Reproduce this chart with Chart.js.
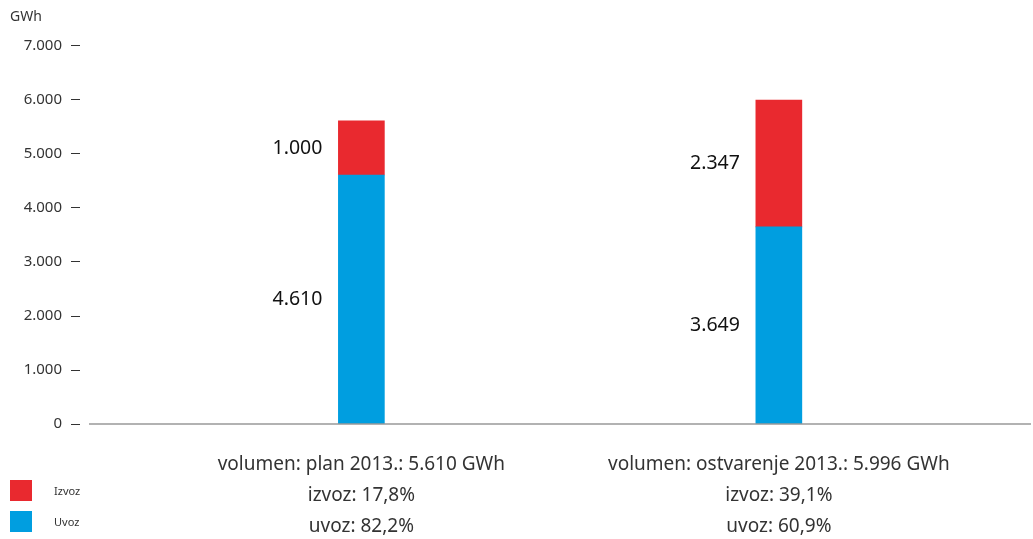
<!DOCTYPE html>
<html>
<head>
<meta charset="utf-8">
<script src="https://cdn.jsdelivr.net/npm/chart.js@4/dist/chart.umd.min.js"></script>
<style>
  body { margin: 0; background: #fff; }
  #wrap { position: relative; width: 1033px; height: 539px; }
  #legend { position: absolute; left: 10px; top: 480px; font: 11px "Noto Sans", sans-serif; color: #333; }
  #legend div { display: flex; align-items: center; height: 21px; margin-bottom: 10px; }
  #legend span.box { width: 22px; height: 21px; margin-right: 22px; }
</style>
</head>
<body>
<div id="wrap">
  <canvas id="chart"></canvas>
  <div id="legend"></div>
</div>
<script>
// category labels, one array of lines per bar
const categories = [
  ["volumen: plan 2013.: 5.610 GWh", "izvoz: 17,8%", "uvoz: 82,2%"],
  ["volumen: ostvarenje 2013.: 5.996 GWh", "izvoz: 39,1%", "uvoz: 60,9%"],
];
const uvoz = [4610, 3649];
const izvoz = [1000, 2347];
const yTicks = [0, 1000, 2000, 3000, 4000, 5000, 6000, 7000];

const RED = "rgb(233, 41, 47)";
const BLUE = "rgb(0, 158, 224)";

function fmt(n) {
  return String(n).replace(/\B(?=(\d{3})+(?!\d))/g, ".");
}

// values drawn to the left of each segment
const segmentLabels = {
  id: "segmentLabels",
  afterDatasetsDraw(chart) {
    const ctx = chart.ctx;
    ctx.save();
    ctx.font = '19.5px "Noto Sans", sans-serif';
    ctx.fillStyle = "#111";
    ctx.textAlign = "right";
    ctx.textBaseline = "middle";
    chart.data.datasets.forEach((ds, i) => {
      chart.getDatasetMeta(i).data.forEach((bar, j) => {
        const { x, y, base, width } = bar.getProps(["x", "y", "base", "width"], true);
        ctx.fillText(fmt(ds.data[j].y), x - width / 2 - 16, (y + base) / 2);
      });
    });
    ctx.restore();
  },
};

// baseline starts a little right of the y tick marks
const baseline = {
  id: "baseline",
  afterDatasetsDraw(chart) {
    const { ctx, chartArea } = chart;
    ctx.save();
    ctx.strokeStyle = "#999";
    ctx.lineWidth = 1.5;
    ctx.beginPath();
    ctx.moveTo(chartArea.left + 9, chartArea.bottom);
    ctx.lineTo(chartArea.right, chartArea.bottom);
    ctx.stroke();
    ctx.restore();
  },
};

const chart = new Chart(document.getElementById("chart"), {
  type: "bar",
  data: {
    datasets: [
      {
        label: "Uvoz",
        data: uvoz.map((v, i) => ({ x: i, y: v })),
        backgroundColor: BLUE,
        barThickness: 46,
      },
      {
        label: "Izvoz",
        data: izvoz.map((v, i) => ({ x: i, y: v })),
        backgroundColor: RED,
        barThickness: 46,
      },
    ],
  },
  options: {
    responsive: true,
    maintainAspectRatio: false,
    animation: false,
    layout: { padding: { left: 10, right: 2, top: 0, bottom: -20 } },
    plugins: {
      legend: { display: false },
      title: {
        display: true,
        text: "GWh",
        align: "start",
        color: "#333",
        font: { family: "Noto Sans", size: 14, weight: "normal" },
        padding: { top: 9, bottom: 20 },
      },
    },
    scales: {
      x: {
        type: "linear",
        stacked: true,
        offset: false,
        min: -0.674,
        max: 1.604,
        grid: { display: false },
        border: { display: false },
        afterBuildTicks: (scale) => {
          scale.ticks = categories.map((c, i) => ({ value: i }));
        },
        ticks: {
          autoSkip: false,
          maxRotation: 0,
          padding: 17,
          color: "#333",
          font: { family: "Noto Sans", size: 19, lineHeight: 1.63 },
          callback: (v) => categories[v],
        },
      },
      y: {
        stacked: true,
        min: 0,
        max: 7000,
        afterBuildTicks: (scale) => {
          scale.ticks = yTicks.map((v) => ({ value: v }));
        },
        afterFit: (scale) => {
          scale.width = 70;
        },
        grid: { drawOnChartArea: false, tickLength: 9, color: "#333" },
        border: { display: false },
        ticks: {
          padding: 9,
          color: "#333",
          font: { family: "Noto Sans", size: 15 },
          callback: (v) => fmt(v),
        },
      },
    },
  },
  plugins: [segmentLabels, baseline],
});

// legend: Izvoz above Uvoz
const legend = document.getElementById("legend");
chart.data.datasets.slice().reverse().forEach((ds) => {
  const row = document.createElement("div");
  const box = document.createElement("span");
  box.className = "box";
  box.style.background = ds.backgroundColor;
  row.appendChild(box);
  row.appendChild(document.createTextNode(ds.label));
  legend.appendChild(row);
});
</script>
</body>
</html>
